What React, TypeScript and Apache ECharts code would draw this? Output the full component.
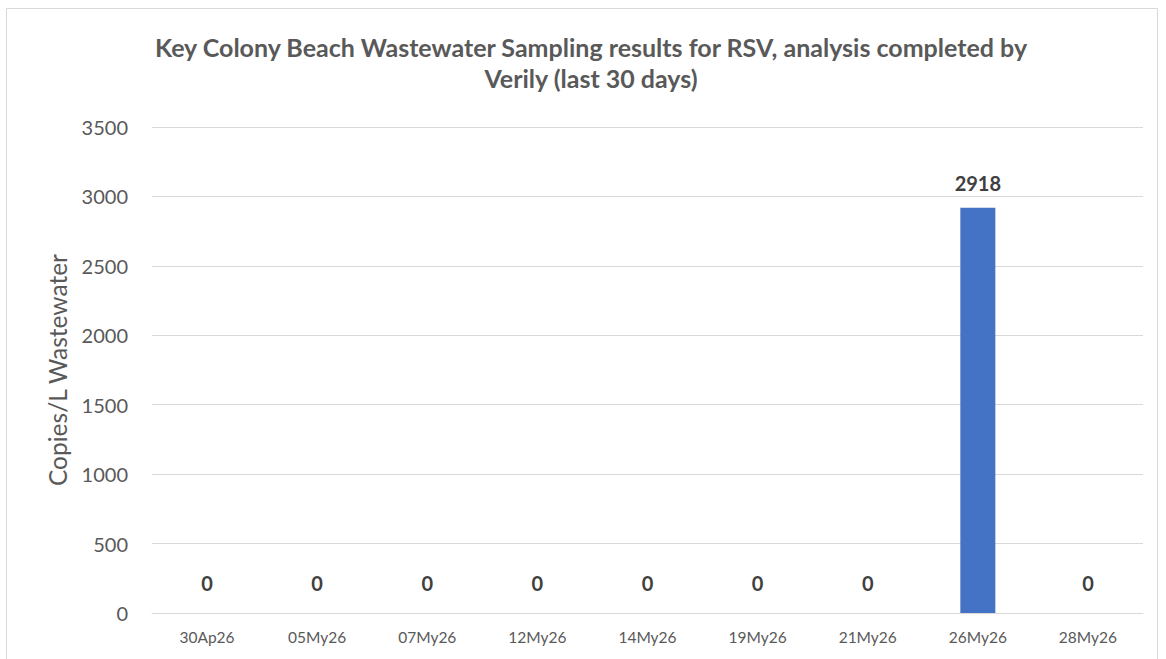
import React, { useEffect, useRef } from "react";
import * as echarts from "echarts";

const categories = ["30Ap26", "05My26", "07My26", "12My26", "14My26", "19My26", "21My26", "26My26", "28My26"];
const values = [0, 0, 0, 0, 0, 0, 0, 2918, 0];
const titleText = "Key Colony Beach Wastewater Sampling results for RSV, analysis completed by\nVerily (last 30 days)";
const yAxisName = "Copies/L Wastewater";

const FONT = "Lato, 'Noto Sans', sans-serif";

export default function App() {
  const ref = useRef<HTMLDivElement>(null);
  useEffect(() => {
    const chart = echarts.init(ref.current!, null, { renderer: "svg" });
    chart.setOption({
      animation: false,
      backgroundColor: "#ffffff",
      textStyle: { fontFamily: FONT },
      title: {
        text: titleText,
        left: 586,
        textAlign: "center",
        top: 26,
        textStyle: { fontFamily: FONT, fontSize: 25, fontWeight: "bold", color: "#595959", lineHeight: 31 },
      },
      graphic: [
        {
          type: "rect",
          shape: { x: 6.5, y: 8.5, width: 1151, height: 700 },
          style: { fill: "none", stroke: "#d9d9d9", lineWidth: 1 },
          silent: true,
        },
      ],
      grid: { left: 152, right: 23, top: 127, bottom: 46, containLabel: false },
      xAxis: {
        type: "category",
        data: categories,
        axisLine: { show: true, lineStyle: { color: "#d9d9d9", width: 1 } },
        axisTick: { show: false },
        axisLabel: { color: "#595959", fontSize: 15.5, fontFamily: FONT, margin: 16 },
      },
      yAxis: {
        type: "value",
        min: 0,
        max: 3500,
        interval: 500,
        name: yAxisName,
        nameLocation: "middle",
        nameGap: 82,
        nameRotate: 90,
        nameTextStyle: { color: "#595959", fontSize: 24.5, fontFamily: FONT },
        axisLine: { show: false },
        axisTick: { show: false },
        axisLabel: {
          color: "#595959",
          fontSize: 20,
          fontFamily: FONT,
          margin: 24,
          formatter: (v: number) => String(v),
        },
        splitLine: { lineStyle: { color: "#d9d9d9", width: 1 } },
      },
      series: [
        {
          type: "bar",
          data: values.map((v) => ({
            value: v,
            label: { distance: v === 0 ? 20 : 15 },
          })),
          barWidth: 35,
          itemStyle: { color: "#4472c4" },
          label: {
            show: true,
            position: "top",
            fontSize: 20,
            fontWeight: "bold",
            color: "#404040",
            fontFamily: FONT,
          },
        },
      ],
    });
    return () => chart.dispose();
  }, []);
  return (
    <div
      ref={ref}
      style={{ position: "absolute", left: 0, top: 0, width: 1166, height: 659 }}
    />
  );
}
